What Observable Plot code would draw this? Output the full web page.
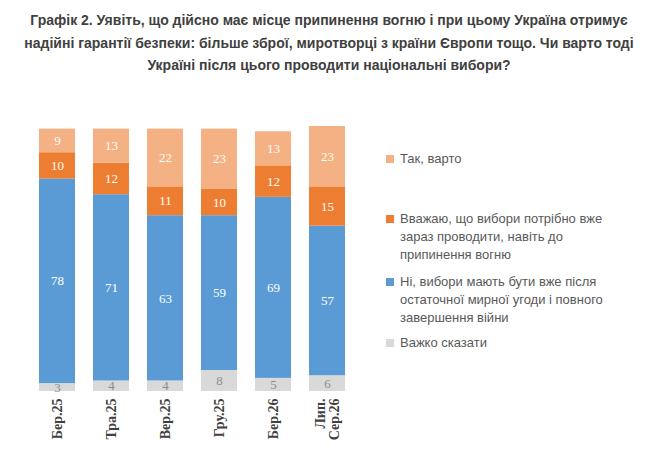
<!DOCTYPE html>
<html><head><meta charset="utf-8">
<script src="https://cdn.jsdelivr.net/npm/d3@7"></script>
<script src="https://cdn.jsdelivr.net/npm/@observablehq/plot@0.6"></script>
<style>
body{margin:0;background:#fff;font-family:Arial,"Liberation Sans",sans-serif;width:658px;height:469px;position:relative;overflow:hidden}
#title{position:absolute;top:9px;left:0;width:658px;text-align:center;font-weight:bold;font-size:14px;line-height:22.5px;color:#404040}
#chart{position:absolute;left:0;top:118px}
.leg{position:absolute;left:386px;font-size:13px;color:#595959;line-height:18px;width:260px}
.leg i{position:absolute;left:0;top:5px;width:8px;height:8px}
.leg span{display:block;padding-left:14px}
</style></head><body>
<div id="title">Графік 2. Уявіть, що дійсно має місце припинення вогню і при цьому Україна отримує<br>надійні гарантії безпеки: більше зброї, миротворці з країни Європи тощо. Чи варто тоді<br>Україні після цього проводити національні вибори?</div>
<div id="chart"></div>
<div class="leg" style="top:150px"><i style="background:#f4b183"></i><span>Так, варто</span></div>
<div class="leg" style="top:210px"><i style="background:#ed7d31"></i><span>Вважаю, що вибори потрібно вже<br>зараз проводити, навіть до<br>припинення вогню</span></div>
<div class="leg" style="top:273px"><i style="background:#5b9bd5"></i><span>Ні, вибори мають бути вже після<br>остаточної мирної угоди і повного<br>завершення війни</span></div>
<div class="leg" style="top:334px"><i style="background:#d9d9d9"></i><span>Важко сказати</span></div>
<script>
const periods=["Бер.25","Тра.25","Вер.25","Гру.25","Бер.26","Лип.-Сер.26"];
const periodLabels=["Бер.25","Тра.25","Вер.25","Гру.25","Бер.26","Лип.\nСер.26"];
const hard=[3,4,4,8,5,6];
const no=[78,71,63,59,69,57];
const now=[10,12,11,10,12,15];
const yes=[9,13,22,23,13,23];
const series=[["Важко сказати",hard,"#d9d9d9","#8c8c8c"],["Ні",no,"#5b9bd5","#fff"],["Вважаю",now,"#ed7d31","#fff"],["Так",yes,"#f4b183","#fff"]];
const data=[];
series.forEach(([s,v,c,t],si)=>periods.forEach((p,i)=>data.push({p,s,si,v:v[i],c,t})));
const stack={x:"p",y:"v",z:"si",order:null};
const chart=Plot.plot({
 width:380,height:340,marginLeft:18,marginRight:14,marginTop:8,marginBottom:67,
 x:{domain:periods,padding:0.34,label:null,axis:null},
 y:{domain:[0,101],axis:null},
 style:{fontFamily:"Arial"},
 marks:[
  Plot.barY(data,Plot.stackY({...stack,fill:"c"})),
  Plot.text(data,Plot.stackY({...stack,y:"v",text:d=>d.v,fill:"t",fontSize:13,fontFamily:"Liberation Serif, serif"})),
  Plot.text(periods,{x:d=>d,text:(d,i)=>periodLabels[i],frameAnchor:"bottom",rotate:-90,textAnchor:"end",lineAnchor:"middle",dy:7,lineHeight:1,
    fontSize:14,fontWeight:"bold",fill:"#404040",fontFamily:"Liberation Serif, serif"})
 ]
});
document.getElementById("chart").append(chart);
</script>
</body></html>
